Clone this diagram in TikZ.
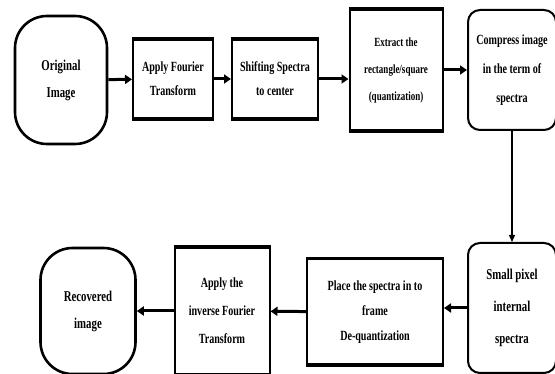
\documentclass[tikz,border=0pt]{standalone}
\usepackage{fontspec}
\newfontfamily\flowfont[FakeStretch=0.72]{Liberation Serif}
\usetikzlibrary{positioning,arrows.meta}

\tikzset{
  box/.style={draw, line width=2pt, align=center, inner sep=2pt,
    font=\flowfont\bfseries\fontsize{14}{24}\selectfont},
  process/.style={box},
  roundproc/.style={box, rounded corners=12pt},
  terminal/.style={box, line width=2.6pt, rounded corners=32pt},
  edge/.style={line width=3.6pt},
  flow/.style={line width=3pt, -{Triangle[length=7pt,width=9pt]}},
  thinflow/.style={line width=1.4pt, -{Triangle[length=7pt,width=6pt]}}
}

\begin{document}
\begin{tikzpicture}[x=1pt,y=-1pt]
\useasboundingbox (0,0) rectangle (555,374);

% top row
\node[terminal, minimum width=92pt, minimum height=128pt,
  font=\flowfont\bfseries\fontsize{15}{27}\selectfont] (orig) at (61,80) {Original\\Image};
\node[process, minimum width=80pt, minimum height=78pt] (fourier) at (173,79) {Apply Fourier\\Transform};
\node[process, minimum width=86pt, minimum height=78pt] (shift) at (275,79) {Shifting Spectra\\to center};
\node[process, minimum width=93pt, minimum height=120pt,
  font=\flowfont\bfseries\fontsize{12.5}{27}\selectfont] (extract) at (396,70)
  {Extract the\\rectangle/square\\(quantization)};
\node[roundproc, minimum width=88pt, minimum height=120pt,
  font=\flowfont\bfseries\fontsize{14}{29}\selectfont] (compress) at (512,70)
  {Compress image\\in the term of\\spectra};

% bottom row
\node[roundproc, minimum width=88pt, minimum height=130pt,
  font=\flowfont\bfseries\fontsize{15}{32}\selectfont] (small) at (512,308)
  {Small pixel\\internal\\spectra};
\node[process, minimum width=136pt, minimum height=105pt,
  font=\flowfont\bfseries\fontsize{14}{25}\selectfont] (place) at (375,312)
  {Place the spectra in to\\frame\\De-quantization};
\node[process, minimum width=95pt, minimum height=126pt,
  font=\flowfont\bfseries\fontsize{14}{28}\selectfont] (inverse) at (222,311)
  {Apply the\\inverse Fourier\\Transform};
\node[terminal, minimum width=95pt, minimum height=126pt,
  font=\flowfont\bfseries\fontsize{15}{27}\selectfont] (recovered) at (88,311) {Recovered\\image};

% heavier top and bottom edges of the plain boxes
\foreach \n in {fourier,shift,extract,place,inverse}
  \draw[edge] (\n.north west) -- (\n.north east)
              (\n.south west) -- (\n.south east);

% connectors
\draw[flow] (orig) -- (fourier);
\draw[flow] (fourier) -- (shift);
\draw[flow] (shift.east) -- (shift.east -| extract.west);
\draw[flow] (extract.east) -- (extract.east -| compress.west);
\draw[thinflow] (compress) -- (small);
\draw[flow] (small.west) -- (small.west -| place.east);
\draw[flow] (place) -- (inverse);
\draw[flow] (inverse) -- (recovered);
\end{tikzpicture}
\end{document}
